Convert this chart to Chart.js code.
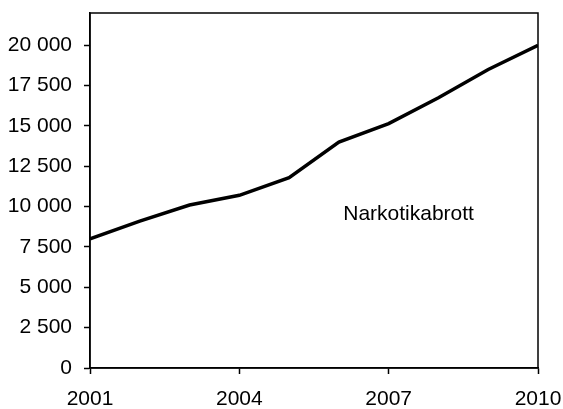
<!DOCTYPE html>
<html>
<head>
<meta charset="utf-8">
<script src="https://cdn.jsdelivr.net/npm/chart.js@4/dist/chart.umd.min.js"></script>
<style>
html,body{margin:0;padding:0;background:#fff;}
#wrap{width:563px;height:409px;}
</style>
</head>
<body>
<div id="wrap"><canvas id="c" width="563" height="409"></canvas></div>
<script>
const years = [2001, 2002, 2003, 2004, 2005, 2006, 2007, 2008, 2009, 2010];
const narkotikabrott = [8000, 9100, 10100, 10700, 11800, 14000, 15150, 16750, 18500, 20000];
const xTicks = [2001, 2004, 2007, 2010];
const yTicks = [0, 2500, 5000, 7500, 10000, 12500, 15000, 17500, 20000];
const seriesLabel = 'Narkotikabrott';

const FONT = '"Liberation Sans", Arial, sans-serif';

const frame = {
  id: 'frame',
  afterDatasetsDraw(chart) {
    const {ctx, chartArea: a} = chart;
    ctx.save();
    ctx.strokeStyle = '#000';
    ctx.lineWidth = 1.5;
    ctx.strokeRect(a.left, a.top, a.right - a.left, a.bottom - a.top);
    const xs = chart.scales.x, ys = chart.scales.y;
    ctx.fillStyle = '#000';
    ctx.font = '21px ' + FONT;
    ctx.textAlign = 'center';
    ctx.textBaseline = 'middle';
    ctx.fillText(seriesLabel, xs.getPixelForValue(2007.4), ys.getPixelForValue(9550));
    ctx.restore();
  }
};

new Chart(document.getElementById('c'), {
  type: 'line',
  data: {
    datasets: [{
      label: seriesLabel,
      data: years.map((y, i) => ({x: y, y: narkotikabrott[i]})),
      borderColor: '#000',
      borderWidth: 3.5,
      pointRadius: 0,
      tension: 0,
      fill: false
    }]
  },
  options: {
    responsive: false,
    animation: false,
    layout: {padding: {left: 0, top: 13, right: 25, bottom: 0}},
    plugins: {legend: {display: false}, tooltip: {enabled: false}},
    scales: {
      x: {
        type: 'linear',
        min: 2001,
        max: 2010,
        afterBuildTicks(s) { s.ticks = xTicks.map(v => ({value: v})); },
        afterFit(s) { s.height = 41; s.paddingLeft = 0; s.paddingRight = 0; },
        grid: {drawOnChartArea: false, tickLength: 6, tickColor: '#000', tickWidth: 1.5},
        border: {display: true, color: '#000', width: 1.5},
        ticks: {
          color: '#000',
          font: {family: FONT, size: 21},
          padding: 13,
          maxRotation: 0,
          callback: v => String(v)
        }
      },
      y: {
        min: 0,
        max: 22000,
        afterBuildTicks(s) { s.ticks = yTicks.map(v => ({value: v})); },
        afterFit(s) { s.width = 90; s.paddingTop = 0; s.paddingBottom = 0; },
        grid: {drawOnChartArea: false, tickLength: 6, tickColor: '#000', tickWidth: 1.5},
        border: {display: true, color: '#000', width: 1.5},
        ticks: {
          color: '#000',
          font: {family: FONT, size: 21},
          padding: 12,
          callback: v => String(v).replace(/\B(?=(\d{3})+(?!\d))/g, ' ')
        }
      }
    }
  },
  plugins: [frame]
});
</script>
</body>
</html>
